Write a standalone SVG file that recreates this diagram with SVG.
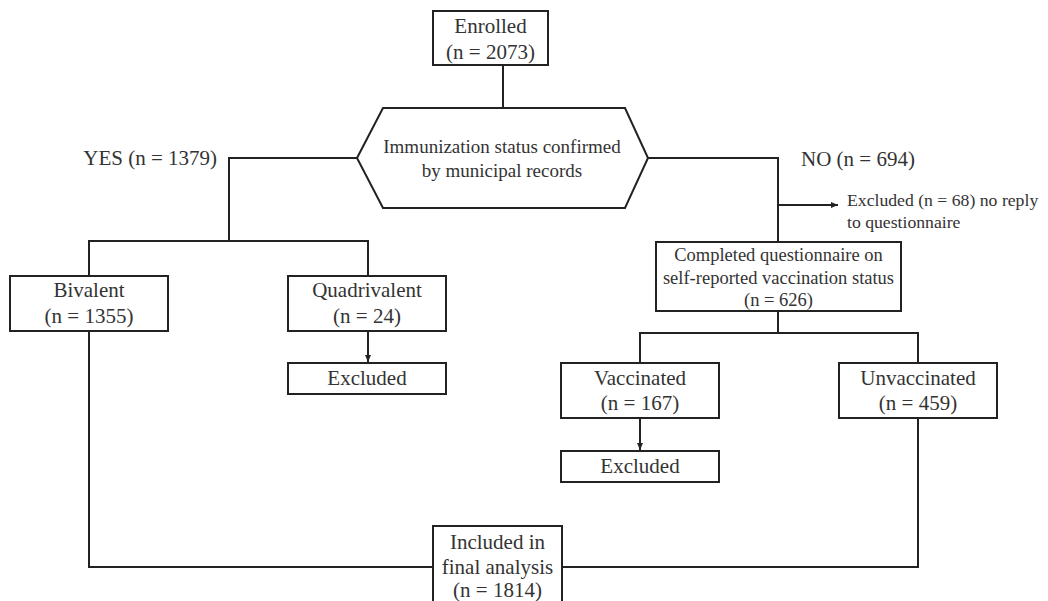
<svg xmlns="http://www.w3.org/2000/svg" width="1048" height="601" viewBox="0 0 1048 601">
<defs>
<style>
.box{fill:#fff;stroke:#222;stroke-width:2}
.ln{fill:none;stroke:#222;stroke-width:2}
.t{font-family:"Liberation Serif","Times New Roman",serif;font-size:21px;fill:#333;text-anchor:middle}
.m{font-size:19px}
.c{font-size:18.5px}
.s{font-family:"Liberation Serif","Times New Roman",serif;font-size:17.7px;fill:#333}
</style>
<marker id="ah" markerWidth="8" markerHeight="8" refX="7" refY="4" orient="auto" markerUnits="userSpaceOnUse">
<path d="M0,1 L7,4 L0,7 Z" fill="#222"/>
</marker>
</defs>
<rect width="1048" height="601" fill="#fff"/>
<g id="connectors">
<line class="ln" x1="503" y1="65" x2="503" y2="108"/>
<polyline class="ln" points="357,158 229,158 229,241"/>
<polyline class="ln" points="89,276 89,241 368,241 368,276"/>
<line class="ln" x1="368" y1="331" x2="368" y2="362" marker-end="url(#ah)"/>
<polyline class="ln" points="89,331 89,567 433,567"/>
<polyline class="ln" points="648,158 778,158 778,242"/>
<line class="ln" x1="778" y1="205" x2="838" y2="205" marker-end="url(#ah)"/>
<line class="ln" x1="778" y1="311" x2="778" y2="333"/>
<polyline class="ln" points="640,363 640,333 918,333 918,363"/>
<line class="ln" x1="640" y1="418" x2="640" y2="450" marker-end="url(#ah)"/>
<polyline class="ln" points="918,418 918,567 562,567"/>
</g>
<g id="enrolled">
<rect class="box" x="433" y="11" width="115" height="54"/>
<text class="t" x="490.5" y="33">Enrolled</text>
<text class="t" x="490.5" y="59">(n = 2073)</text>
</g>
<g id="decision">
<polygon class="box" points="383,108 625,108 648,158 625,208 383,208 357,158"/>
<text class="t m" x="502" y="153">Immunization status confirmed</text>
<text class="t m" x="502" y="177">by municipal records</text>
</g>
<g id="yes-label">
<text class="t" x="217" y="165" style="text-anchor:end">YES (n = 1379)</text>
</g>
<g id="no-label">
<text class="t" x="801" y="166" style="text-anchor:start">NO (n = 694)</text>
</g>
<g id="excluded-note">
<text class="s" x="847" y="206">Excluded (n = 68) no reply</text>
<text class="s" x="847" y="228">to questionnaire</text>
</g>
<g id="bivalent">
<rect class="box" x="10" y="276" width="158" height="55"/>
<text class="t" x="89" y="297">Bivalent</text>
<text class="t" x="89" y="323">(n = 1355)</text>
</g>
<g id="quadrivalent">
<rect class="box" x="288" y="276" width="158" height="55"/>
<text class="t" x="367" y="297">Quadrivalent</text>
<text class="t" x="367" y="323">(n = 24)</text>
</g>
<g id="excluded-quad">
<rect class="box" x="288" y="363" width="158" height="31"/>
<text class="t" x="367" y="385">Excluded</text>
</g>
<g id="completed">
<rect class="box" x="656" y="242" width="245" height="69"/>
<text class="t c" x="778.5" y="261">Completed questionnaire on</text>
<text class="t c" x="778.5" y="284">self-reported vaccination status</text>
<text class="t c" x="778.5" y="306">(n = 626)</text>
</g>
<g id="vaccinated">
<rect class="box" x="561" y="363" width="158" height="55"/>
<text class="t" x="640" y="385">Vaccinated</text>
<text class="t" x="640" y="410">(n = 167)</text>
</g>
<g id="excluded-vacc">
<rect class="box" x="561" y="451" width="158" height="31"/>
<text class="t" x="640" y="473">Excluded</text>
</g>
<g id="unvaccinated">
<rect class="box" x="839" y="363" width="158" height="55"/>
<text class="t" x="918" y="385">Unvaccinated</text>
<text class="t" x="918" y="410">(n = 459)</text>
</g>
<g id="included">
<rect class="box" x="433" y="526" width="129" height="80"/>
<text class="t" x="497.5" y="549">Included in</text>
<text class="t" x="497.5" y="574">final analysis</text>
<text class="t" x="497.5" y="597">(n = 1814)</text>
</g>
</svg>
